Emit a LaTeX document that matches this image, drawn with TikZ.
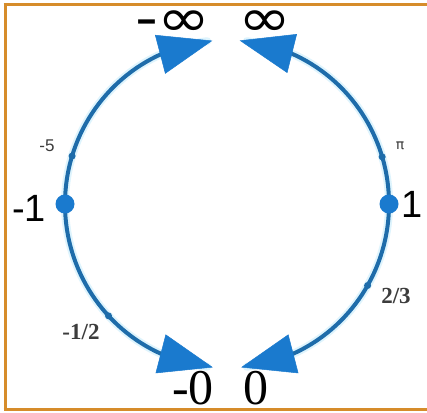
\documentclass[tikz,border=0pt]{standalone}
\usepackage{fontspec}
\setmainfont{Liberation Serif}
\newfontfamily\lsans{Liberation Sans}
\newfontfamily\dvsans{DejaVu Sans}
\usetikzlibrary{arrows.meta,bending}
\definecolor{lineblue}{RGB}{30,108,170}
\definecolor{tipblue}{RGB}{26,122,206}
\definecolor{glow}{RGB}{222,244,253}
\definecolor{framecol}{RGB}{214,140,42}
\definecolor{labgray}{RGB}{60,60,60}
\tikzset{
  frameline/.style={draw=framecol,line width=3pt},
  glowline/.style={draw=glow,line width=8pt,line cap=round},
  arcline/.style={draw=lineblue,line width=4pt,
    -{Triangle[length=54pt,width=40pt,flex,color=tipblue,fill=tipblue,line width=0.5pt]}},
  bigdot/.style={circle,fill=tipblue,inner sep=0pt,minimum size=19pt},
  smalldot/.style={circle,fill=lineblue,inner sep=0pt,minimum size=7pt},
  inflab/.style={font=\dvsans\fontsize{53}{53}\selectfont,inner sep=0pt,xscale=1.2},
  onelab/.style={font=\lsans\fontsize{38}{38}\selectfont,inner sep=0pt,anchor=base},
  zerolab/.style={font=\fontsize{50}{50}\selectfont,inner sep=0pt,anchor=base},
  smalllab/.style={font=\lsans\fontsize{17}{17}\selectfont,text=labgray,inner sep=0pt},
  fraclab/.style={font=\bfseries\fontsize{23}{23}\selectfont,text=labgray,inner sep=0pt},
}
\begin{document}
\begin{tikzpicture}[x=1pt,y=1pt]
\useasboundingbox (0,0) rectangle (427,412);
\fill[white] (0,0) rectangle (427,412);
\coordinate (ftl) at (3.5,407);
\coordinate (ftr) at (427,407);
\coordinate (fbl) at (3.5,2.5);
\coordinate (fbr) at (427,2.5);
\draw[frameline] (ftl) -- (ftr);
\draw[frameline] (fbl) -- (fbr);
\draw[frameline] (5,408.5) -- (5,1);
\coordinate (c) at (227,208);
\coordinate (m1) at ([shift={(180:162 and 164)}]c);
\coordinate (p1) at ([shift={(0:162 and 164)}]c);
% glow underlay
\path[glowline] (c) ++(97:162 and 164) arc[start angle=97,end angle=263,x radius=162,y radius=164];
\path[glowline] (c) ++(83:162 and 164) arc[start angle=83,end angle=-83,x radius=162,y radius=164];
% arcs
\draw[arcline] (m1) arc[start angle=180,end angle=95.2,x radius=162,y radius=164];
\draw[arcline] (m1) arc[start angle=180,end angle=265,x radius=162,y radius=164];
\draw[arcline] (p1) arc[start angle=0,end angle=85.5,x radius=162,y radius=164];
\draw[arcline] (p1) arc[start angle=0,end angle=-85,x radius=162,y radius=164];
% dots
\node[bigdot] (dm1) at (m1) {};
\node[bigdot] (dp1) at (p1) {};
\node[smalldot] (d5) at ([shift={(163:162 and 164)}]c) {};
\node[smalldot] (dpi) at ([shift={(16.7:162 and 164)}]c) {};
\node[smalldot] (d23) at ([shift={(-29.8:162 and 164)}]c) {};
\node[smalldot] (dh) at ([shift={(223:162 and 164)}]c) {};
% labels
\node[inflab] (minf) at (173,388) {-∞};
\node[inflab] (pinf) at (265,388) {∞};
\node[onelab] (lm1) at (29,190) {-1};
\node[onelab] (lp1) at (412,194) {1};
\node[zerolab] (lm0) at (193,8) {-0};
\node[zerolab] (lp0) at (256,8) {0};
\node[smalllab] (l5) at (47,266) {-5};
\node[smalllab] (lpi) at (400,266) {\dvsans\fontsize{14}{14}\selectfont π};
\node[fraclab] (lh) at (81,80) {-1/2};
\node[fraclab] (l23) at (396,116) {2/3};
\end{tikzpicture}
\end{document}
